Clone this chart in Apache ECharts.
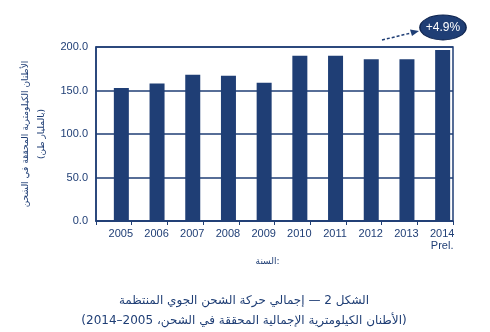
<!DOCTYPE html>
<html><head><meta charset="utf-8">
<script src="https://cdn.jsdelivr.net/npm/echarts@6/dist/echarts.min.js"></script>
<style>html,body{margin:0;padding:0;background:#fff}#c{width:490px;height:332px}</style>
</head><body><div id="c"></div>
<script>
var categories = ['2005','2006','2007','2008','2009','2010','2011','2012','2013','2014\nPrel.'];
var values = [153, 158, 168, 167, 159, 190, 190, 186, 186, 196.5];
var spacer = [0,0,0,0,0,0,0,0,0,0];
var yTicks = [0, 50, 100, 150, 200];
var titleLine1 = 'الشكل 2 — إجمالي حركة الشحن الجوي المنتظمة';
var titleLine2 = '(الأطنان الكيلومترية الإجمالية المحققة في الشحن، 2005–2014)';
var yName = 'الأطنان الكيلومترية المحققة في الشحن\n(بالمليار طن)';
var xName = 'السنة:';
var growthLabel = '+4.9%';

var navy = '#1f3e75';
var chart = echarts.init(document.getElementById('c'));
chart.setOption({
  animation: false,
  textStyle: {fontFamily: 'Liberation Sans, DejaVu Sans, sans-serif'},
  title: {
    text: titleLine1 + '\n' + titleLine2,
    left: 239, top: 286, textAlign: 'center',
    textStyle: {color: navy, fontSize: 12, fontWeight: 'normal', lineHeight: 20, fontFamily: 'DejaVu Sans, sans-serif'}
  },
  grid: {left: 96, right: 37, top: 47, bottom: 111, show: true, borderColor: navy, borderWidth: 1.5},
  xAxis: {
    type: 'category', data: categories,
    axisLine: {lineStyle: {color: navy, width: 1.5}},
    axisTick: {show: true, length: 4, lineStyle: {color: navy}},
    axisLabel: {color: navy, fontSize: 11, margin: 7, interval: 0, padding: [0,0,0,14], lineHeight: 12},
    name: xName, nameLocation: 'middle', nameGap: 34,
    nameTextStyle: {color: navy, fontSize: 9, fontFamily: 'DejaVu Sans, sans-serif', padding: [0,14,0,0]}
  },
  yAxis: {
    type: 'value', min: yTicks[0], max: yTicks[yTicks.length-1], interval: 50,
    axisLine: {show: true, lineStyle: {color: navy, width: 1.5}},
    axisTick: {show: false},
    splitLine: {lineStyle: {color: navy, width: 1.5}},
    axisLabel: {color: navy, fontSize: 11, margin: 8, formatter: function(v){return v.toFixed(1);}},
    name: yName, nameLocation: 'middle', nameRotate: 90, nameGap: 44,
    nameTextStyle: {color: navy, fontSize: 9, lineHeight: 16, fontFamily: 'DejaVu Sans, sans-serif'}
  },
  series: [
    {type: 'bar', data: spacer, barWidth: 15, barGap: '0%', silent: true, itemStyle: {color: 'rgba(0,0,0,0)'}},
    {type: 'bar', data: values, barWidth: 15, itemStyle: {color: navy}}
  ],
  graphic: [
    {type: 'line', shape: {x1: 382, y1: 40, x2: 411, y2: 33}, style: {stroke: navy, lineWidth: 1.5, lineDash: [3,2]}},
    {type: 'polygon', shape: {points: [[419,31],[410,29.5],[412,36]]}, style: {fill: navy}},
    {type: 'circle', shape: {cx: 0, cy: 0, r: 12.5}, x: 443, y: 27.5, scaleX: 1.85, style: {fill: navy, stroke: '#0f2550', lineWidth: 0.8}},
    {type: 'text', x: 443, y: 27.5, style: {text: growthLabel, fill: '#fff', fontSize: 12, align: 'center', verticalAlign: 'middle', fontFamily: 'Liberation Sans, sans-serif'}}
  ]
});
</script></body></html>
